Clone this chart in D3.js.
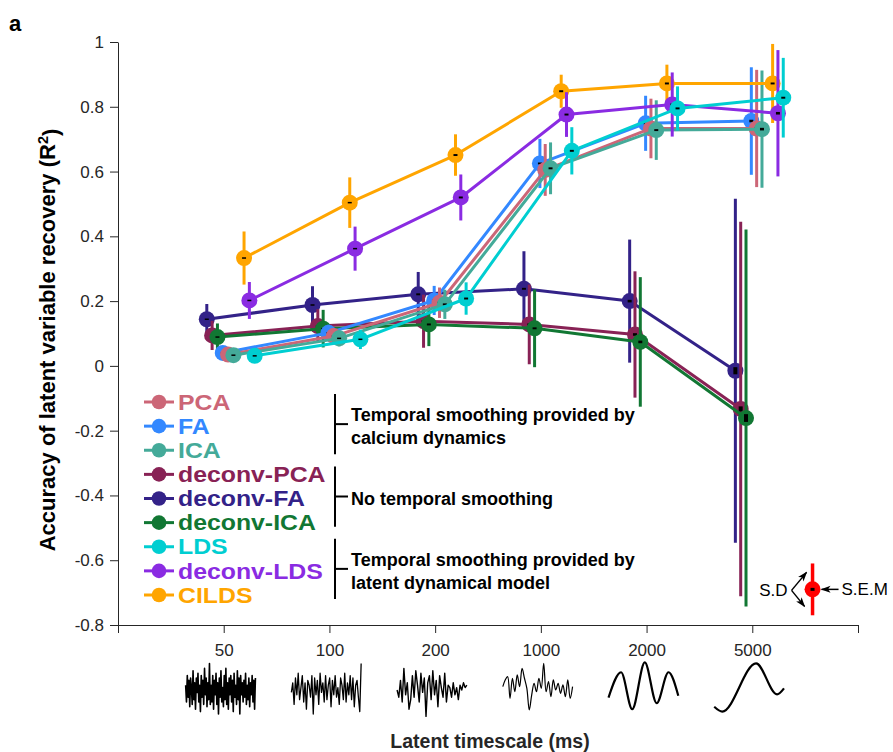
<!DOCTYPE html>
<html>
<head>
<meta charset="utf-8">
<script src="https://cdn.jsdelivr.net/npm/d3@7"></script>
<style>
  body { margin: 0; background: #fff; }
  svg { display: block; font-family: "Liberation Sans", Arial, Helvetica, sans-serif; }
</style>
</head>
<body>
<svg id="chart" width="893" height="752"></svg>
<script>
// ---- categories and tick labels ----
const timescales = ["50", "100", "200", "1000", "2000", "5000"];
const yTickValues = [1, 0.8, 0.6, 0.4, 0.2, 0, -0.2, -0.4, -0.6, -0.8];
const yTickLabels = ["1", "0.8", "0.6", "0.4", "0.2", "0", "-0.2", "-0.4", "-0.6", "-0.8"];

// ---- R² of latent recovery: mean, S.D. and S.E.M. per timescale ----
const pcaMean = [0.035, 0.092, 0.195, 0.605, 0.733, 0.733];
const pcaSD   = [0.015, 0.025, 0.047, 0.080, 0.092, 0.181];
const pcaSEM  = [0.002, 0.002, 0.003, 0.003, 0.003, 0.004];

const faMean = [0.040, 0.102, 0.202, 0.625, 0.749, 0.756];
const faSD   = [0.015, 0.025, 0.045, 0.076, 0.085, 0.166];
const faSEM  = [0.002, 0.002, 0.003, 0.003, 0.003, 0.004];

const icaMean = [0.033, 0.085, 0.190, 0.610, 0.728, 0.731];
const icaSD   = [0.015, 0.025, 0.045, 0.080, 0.092, 0.181];
const icaSEM  = [0.002, 0.002, 0.003, 0.003, 0.003, 0.004];

const dPcaMean = [0.094, 0.123, 0.138, 0.128, 0.097, -0.133];
const dPcaSD   = [0.045, 0.052, 0.082, 0.123, 0.195, 0.578];
const dPcaSEM  = [0.002, 0.002, 0.003, 0.003, 0.004, 0.008];

const dFaMean = [0.144, 0.188, 0.221, 0.238, 0.200, -0.015];
const dFaSD   = [0.047, 0.058, 0.069, 0.116, 0.190, 0.531];
const dFaSEM  = [0.002, 0.002, 0.003, 0.003, 0.004, 0.011];

const dIcaMean = [0.089, 0.115, 0.128, 0.116, 0.074, -0.161];
const dIcaSD   = [0.042, 0.058, 0.067, 0.120, 0.200, 0.582];
const dIcaSEM  = [0.002, 0.002, 0.003, 0.003, 0.004, 0.012];

const ldsMean = [0.031, 0.082, 0.208, 0.664, 0.795, 0.828];
const ldsSD   = [0.015, 0.030, 0.050, 0.073, 0.068, 0.123];
const ldsSEM  = [0.002, 0.002, 0.003, 0.003, 0.003, 0.003];

const dLdsMean = [0.202, 0.362, 0.520, 0.776, 0.807, 0.780];
const dLdsSD   = [0.057, 0.068, 0.071, 0.069, 0.099, 0.195];
const dLdsSEM  = [0.002, 0.002, 0.003, 0.003, 0.003, 0.004];

const cildsMean = [0.333, 0.504, 0.651, 0.848, 0.872, 0.872];
const cildsSD   = [0.082, 0.078, 0.064, 0.051, 0.058, 0.122];
const cildsSEM  = [0.002, 0.002, 0.003, 0.003, 0.003, 0.003];

// ---- example latent traces drawn under each timescale ----
const wave50 = [0.2,-0.5,0.6,-0.3,0.4,-0.7,0.5,0.1,-0.6,0.8,-0.4,0.3,-0.8,0.5,-0.1,0.7,-0.5,0.2,-0.9,0.6,
  -0.3,0.4,-0.6,0.9,-0.2,0.5,-0.7,0.3,-0.4,1.1,-0.6,0.2,-0.5,0.6,-0.8,0.4,-0.2,0.7,-0.6,0.3,
  -1.0,0.5,-0.3,0.8,-0.5,0.1,-0.7,0.6,-0.4,0.9,-0.6,0.3,-0.8,0.5,-0.2,0.6,-0.5,0.4,-0.9,0.7,
  -0.3,0.2,-0.6,0.8,-0.4,0.5,-1.0,0.6,-0.2,0.3,-0.5,0.4,-0.3,0.7,-0.6,0.2,-0.4,0.5,-0.7,0.3,
  -0.2,0.6,-0.5,0.4,-0.8,0.5];
const wave100 = [-0.1,0.3,-0.6,0.5,-0.2,0.7,-0.4,0.1,0.6,-0.5,0.3,-0.8,0.4,0.2,-0.3,0.6,-1.0,0.5,-0.2,0.4,
  -0.6,0.7,-0.1,0.3,-0.5,0.6,-0.4,0.2,0.5,-0.7,0.4,-0.2,0.6,-0.3,0.1,-0.6,0.5,0.2,-0.4,0.7,
  -0.5,0.3,-0.2,0.6,-0.4,0.5,-0.7,0.2,0.4,-0.3,-0.9,1.1];
const wave200 = [0.0,-0.3,0.4,-0.5,0.9,-0.2,0.3,-0.8,-0.4,0.6,-0.3,0.8,0.2,-0.5,0.7,-0.1,0.5,-1.1,0.3,0.6,
  -0.4,0.8,-0.2,0.4,-0.7,0.6,0.1,-0.3,0.7,-0.5,0.2,0.1,-0.3,0.3,-0.2,0.1,-0.4,0.2,0.0,0.3,0.1,0.2];
const wave1000 = [0.14,0.42,0.56,-0.35,0.49,-0.07,0.63,0.14,0.9,0.49,0.07,-0.83,-0.21,0.28,-0.07,0.49,0.07,
  1.11,-0.07,0.35,-0.28,0.42,0,0.28,-0.14,0.21,-0.28,0.42,-0.35,0.14];
const wave2000 = [[0,-0.32],[0.18,0.74],[0.34,-0.8],[0.52,1.15],[0.69,-0.55],[0.86,0.74],[1,-0.24]];
const wave5000 = [[0,-0.7],[0.115,-0.9],[0.6,1.11],[0.9,-0.18],[1,0.07]];

// ---- methods, their colours and their side-by-side slot at each timescale ----
const methods = [
  { name: "deconv-FA",  color: "#332288", mean: dFaMean,  sd: dFaSD,  sem: dFaSEM,  slot: 0 },
  { name: "deconv-PCA", color: "#882255", mean: dPcaMean, sd: dPcaSD, sem: dPcaSEM, slot: 1 },
  { name: "deconv-ICA", color: "#117733", mean: dIcaMean, sd: dIcaSD, sem: dIcaSEM, slot: 2 },
  { name: "FA",         color: "#3388FF", mean: faMean,   sd: faSD,   sem: faSEM,   slot: 3 },
  { name: "PCA",        color: "#CC6677", mean: pcaMean,  sd: pcaSD,  sem: pcaSEM,  slot: 4 },
  { name: "ICA",        color: "#44AA99", mean: icaMean,  sd: icaSD,  sem: icaSEM,  slot: 5 },
  { name: "CILDS",      color: "#FFA500", mean: cildsMean,sd: cildsSD,sem: cildsSEM,slot: 7 },
  { name: "deconv-LDS", color: "#8A2BE2", mean: dLdsMean, sd: dLdsSD, sem: dLdsSEM, slot: 8 },
  { name: "LDS",        color: "#00CED1", mean: ldsMean,  sd: ldsSD,  sem: ldsSEM,  slot: 9 }
];
const legendOrder = ["PCA", "FA", "ICA", "deconv-PCA", "deconv-FA", "deconv-ICA", "LDS", "deconv-LDS", "CILDS"];
const legendGroups = [
  { members: ["PCA", "FA", "ICA"], text: ["Temporal smoothing provided by", "calcium dynamics"] },
  { members: ["deconv-PCA", "deconv-FA", "deconv-ICA"], text: ["No temporal smoothing"] },
  { members: ["LDS", "deconv-LDS", "CILDS"], text: ["Temporal smoothing provided by", "latent dynamical model"] }
];

// ---- scales ----
const svg = d3.select("#chart");
const axisColor = "#262626";
const x = d3.scaleLinear().domain([0, 7]).range([118, 858]);
const y = d3.scaleLinear().domain([-0.8, 1]).range([625, 42]);
const dodge = d3.scaleLinear().domain([0, 9]).range([-0.16, 0.293]);

// ---- axes ----
const yAxis = d3.axisLeft(y).tickValues(yTickValues).tickSize(8).tickSizeOuter(0).tickPadding(6)
  .tickFormat((d, i) => yTickLabels[i]);
const gy = svg.append("g").attr("transform", `translate(${x(0)},0)`).call(yAxis);

const xAxis = d3.axisBottom(x).tickValues(d3.range(0, 8)).tickSize(8).tickSizeOuter(0).tickPadding(11)
  .tickFormat(i => (i >= 1 && i <= timescales.length) ? timescales[i - 1] : "");
const gx = svg.append("g").attr("transform", `translate(0,${y(-0.8)})`).call(xAxis);

[gx, gy].forEach(g => {
  g.selectAll("path.domain").attr("stroke", axisColor).attr("stroke-width", 1);
  g.selectAll(".tick line").attr("stroke", axisColor).attr("stroke-width", 1);
  g.selectAll(".tick text").attr("fill", axisColor).style("font-size", "17px")
    .style("font-family", '"Liberation Sans", Arial, sans-serif');
});

// ---- series: line, S.D. bars, markers, S.E.M. ticks ----
const plot = svg.append("g");
methods.forEach(m => {
  const pts = m.mean.map((v, i) => ({ xi: i + 1 + dodge(m.slot), v, sd: m.sd[i], sem: m.sem[i] }));
  const g = plot.append("g");
  g.append("path").datum(pts)
    .attr("fill", "none").attr("stroke", m.color).attr("stroke-width", 3).attr("stroke-linejoin", "round")
    .attr("d", d3.line().x(d => x(d.xi)).y(d => y(d.v)));
  g.selectAll("line.sd").data(pts).join("line")
    .attr("x1", d => x(d.xi)).attr("x2", d => x(d.xi))
    .attr("y1", d => y(d.v + d.sd)).attr("y2", d => y(d.v - d.sd))
    .attr("stroke", m.color).attr("stroke-width", 3);
  g.selectAll("circle").data(pts).join("circle")
    .attr("cx", d => x(d.xi)).attr("cy", d => y(d.v)).attr("r", 8).attr("fill", m.color);
  g.selectAll("rect.sem").data(pts).join("rect")
    .attr("x", d => x(d.xi) - 2).attr("width", 4)
    .attr("y", d => Math.min(y(d.v + d.sem), y(d.v) - 0.75))
    .attr("height", d => Math.max(y(d.v - d.sem) - y(d.v + d.sem), 1.5))
    .attr("fill", "#000");
});

// ---- legend with grouping brackets ----
const byName = new Map(methods.map(m => [m.name, m]));
const rowY = d3.scalePoint().domain(legendOrder).range([402, 595]);
const leg = svg.append("g");
legendOrder.forEach(name => {
  const m = byName.get(name), yy = rowY(name);
  leg.append("line").attr("x1", 144).attr("x2", 174).attr("y1", yy).attr("y2", yy)
    .attr("stroke", m.color).attr("stroke-width", 3);
  leg.append("circle").attr("cx", 159).attr("cy", yy).attr("r", 7.3).attr("fill", m.color);
  const t = leg.append("text").attr("x", 178).attr("y", yy).attr("dy", "0.36em")
    .attr("fill", m.color).style("font-size", "21.4px").style("font-weight", "bold").text(name);
  // rows are packed tightly: keep the line box within the row pitch and widen the glyphs instead
  const w = t.node().getComputedTextLength();
  t.attr("textLength", w * 1.16).attr("lengthAdjust", "spacingAndGlyphs");
});
legendGroups.forEach(gr => {
  const y0 = rowY(gr.members[0]) - 8, y1 = rowY(gr.members[gr.members.length - 1]) + 4;
  const mid = (y0 + y1) / 2;
  leg.append("line").attr("x1", 335).attr("x2", 335).attr("y1", y0).attr("y2", y1)
    .attr("stroke", "#000").attr("stroke-width", 2);
  leg.append("line").attr("x1", 335).attr("x2", 348).attr("y1", mid).attr("y2", mid)
    .attr("stroke", "#000").attr("stroke-width", 2);
  const n = gr.text.length;
  gr.text.forEach((t, k) => {
    leg.append("text").attr("x", 351).attr("y", mid + 2 + (k - (n - 1) / 2) * 23.6).attr("dy", "0.36em")
      .attr("fill", "#000").style("font-size", "18px").style("font-weight", "bold").text(t);
  });
});

// ---- S.D. / S.E.M. key ----
const key = { xi: 6.57, v: -0.69, sd: 0.08, sem: 0.002 };
const defs = svg.append("defs");
defs.append("marker").attr("id", "head").attr("viewBox", "0 -4 10 8").attr("refX", 9).attr("refY", 0)
  .attr("markerWidth", 10).attr("markerHeight", 8).attr("markerUnits", "userSpaceOnUse").attr("orient", "auto")
  .append("path").attr("d", "M0,-3.5L10,0L0,3.5L2.5,0Z").attr("fill", "#000");
const kg = svg.append("g");
const kx = x(key.xi), ky = y(key.v);
kg.append("line").attr("x1", kx).attr("x2", kx).attr("y1", y(key.v + key.sd)).attr("y2", y(key.v - key.sd))
  .attr("stroke", "#FF0000").attr("stroke-width", 3.5);
kg.append("circle").attr("cx", kx).attr("cy", ky).attr("r", 8).attr("fill", "#FF0000");
kg.append("rect").attr("x", kx - 2).attr("y", ky - 1.5).attr("width", 4).attr("height", 3).attr("fill", "#000");
kg.append("path").attr("d", `M${kx - 21},${ky + 1}L${kx - 6},${ky - 17}`)
  .attr("stroke", "#000").attr("stroke-width", 1.5).attr("fill", "none").attr("marker-end", "url(#head)");
kg.append("path").attr("d", `M${kx - 21},${ky + 1}L${kx - 8},${ky + 17}`)
  .attr("stroke", "#000").attr("stroke-width", 1.5).attr("fill", "none").attr("marker-end", "url(#head)");
kg.append("path").attr("d", `M${kx + 26},${ky}L${kx + 9},${ky}`)
  .attr("stroke", "#000").attr("stroke-width", 1.5).attr("fill", "none").attr("marker-end", "url(#head)");
kg.append("text").attr("x", kx - 25).attr("y", ky + 1).attr("dy", "0.36em").attr("text-anchor", "end")
  .attr("fill", "#000").style("font-size", "17px").text("S.D");
kg.append("text").attr("x", kx + 29).attr("y", ky).attr("dy", "0.36em")
  .attr("fill", "#000").style("font-size", "17px").text("S.E.M");

// ---- example traces under the tick labels ----
const wy = d3.scaleLinear().domain([-1, 1]).range([714, 666]);
const traces = [
  { data: wave50, w: 1.6, curve: d3.curveLinear },
  { data: wave100, w: 1.3, curve: d3.curveLinear },
  { data: wave200, w: 1.4, curve: d3.curveLinear },
  { data: wave1000, w: 1.2, curve: d3.curveCatmullRom },
  { data: wave2000, w: 2.2, curve: d3.curveMonotoneX },
  { data: wave5000, w: 2.2, curve: d3.curveMonotoneX }
];
const tg = svg.append("g");
traces.forEach((tr, i) => {
  const wx = d3.scaleLinear().domain([0, 1]).range([x(i + 1 - 0.36), x(i + 1 + 0.30)]);
  const pts = Array.isArray(tr.data[0]) ? tr.data
    : tr.data.map((v, k) => [k / (tr.data.length - 1), v]);
  tg.append("path").datum(pts).attr("fill", "none").attr("stroke", "#000").attr("stroke-width", tr.w)
    .attr("stroke-linejoin", "round")
    .attr("d", d3.line().x(d => wx(d[0])).y(d => wy(d[1])).curve(tr.curve));
});

// ---- titles ----
svg.append("text").attr("x", 490).attr("y", 741).attr("dy", "0.36em").attr("text-anchor", "middle")
  .attr("fill", axisColor).style("font-size", "19.5px").style("font-weight", "bold").text("Latent timescale (ms)");
const yl = svg.append("text").attr("transform", "translate(47,340) rotate(-90)").attr("text-anchor", "middle")
  .attr("dy", "0.36em").attr("fill", "#000").style("font-size", "22px").style("font-weight", "bold");
yl.append("tspan").text("Accuracy of latent variable recovery (R");
yl.append("tspan").attr("dy", "-0.45em").style("font-size", "14.5px").text("2");
yl.append("tspan").attr("dy", "0.45em").text(")");
svg.append("text").attr("x", 9).attr("y", 31).attr("fill", "#000")
  .style("font-size", "22px").style("font-weight", "bold").text("a");
</script>
</body>
</html>
